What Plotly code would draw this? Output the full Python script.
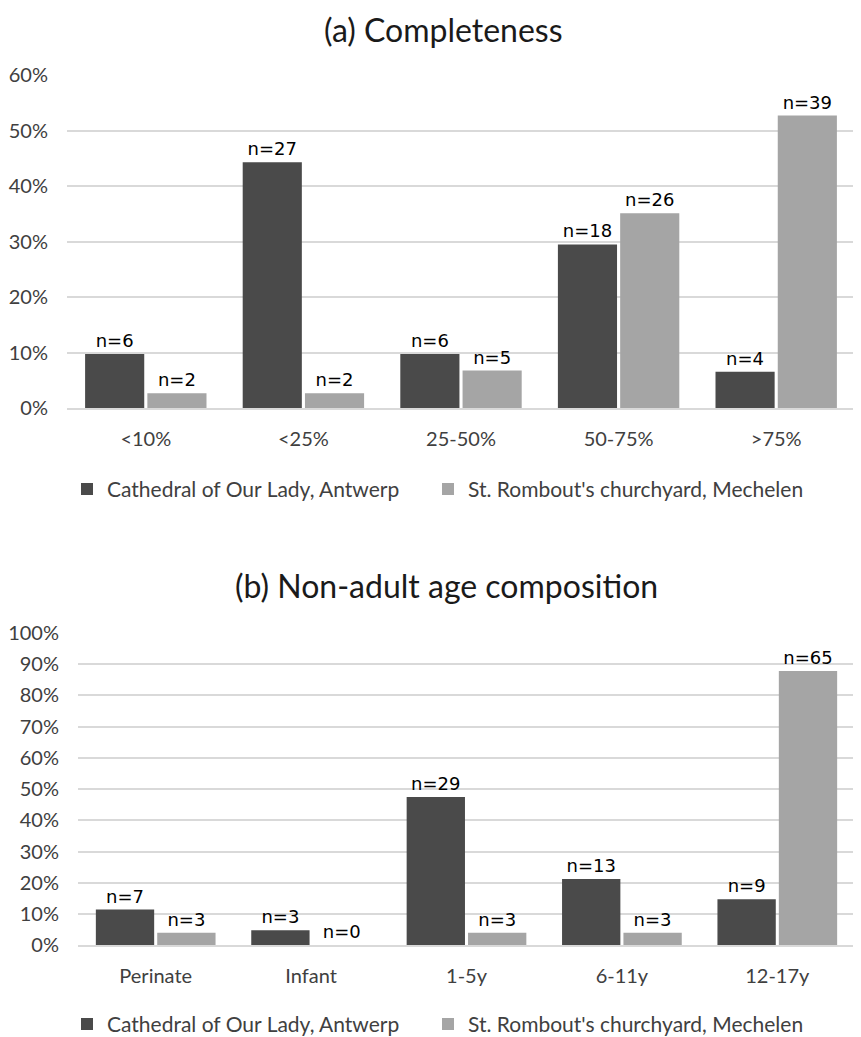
import plotly.graph_objects as go

completeness_cats = ["<10%", "<25%", "25-50%", "50-75%", ">75%"]
comp_antwerp = [0.098, 0.443, 0.098, 0.295, 0.066]
comp_mechelen = [0.027, 0.027, 0.068, 0.351, 0.527]
comp_antwerp_n = [6, 27, 6, 18, 4]
comp_mechelen_n = [2, 2, 5, 26, 39]

age_cats = ["Perinate", "Infant", "1-5y", "6-11y", "12-17y"]
age_antwerp = [0.115, 0.049, 0.475, 0.213, 0.148]
age_mechelen = [0.041, 0.0, 0.041, 0.041, 0.878]
age_antwerp_n = [7, 3, 29, 13, 9]
age_mechelen_n = [3, 0, 3, 3, 65]

series_names = ["Cathedral of Our Lady, Antwerp", "St. Rombout's churchyard, Mechelen"]
DARK = "#4a4a4a"
LIGHT = "#a5a5a5"

# the page has an 8px body margin; map target window pixels to figure paper coords
OFF = 8
VS = 0.993
W, H = 861, 1037
def px_y(p):
    return max(0.0, min(1.0, 1 - (p / VS - OFF) / H))
def px_x(p):
    return max(0.0, min(1.0, (p - OFF) / W))

SANS = "Lato, Open Sans, sans-serif"
TICK_FONT = dict(family=SANS, size=20, color="#404040")
LABEL_FONT = dict(family="DejaVu Sans, sans-serif", size=18, color="#000000")
LEGEND_FONT = dict(family=SANS, size=21, color="#404040")
TITLE_FONT = dict(family=SANS, size=32, color="#1a1a1a")

fig = go.Figure()

def add_pair(cats, a, b, an, bn, xa, ya, legends):
    for vals, ns, name, col, lg in [(a, an, series_names[0], DARK, legends[0]),
                                    (b, bn, series_names[1], LIGHT, legends[1])]:
        fig.add_trace(go.Bar(
            x=cats, y=vals, name=name, marker_color=col, marker_line_width=0,
            text=[f"n={n}" for n in ns], textposition="outside", textfont=LABEL_FONT,
            constraintext="none", cliponaxis=False, xaxis=xa, yaxis=ya,
            legend=lg, showlegend=True, offsetgroup=name,
        ))

add_pair(completeness_cats, comp_antwerp, comp_mechelen, comp_antwerp_n, comp_mechelen_n,
         "x", "y", ("legend", "legend2"))
add_pair(age_cats, age_antwerp, age_mechelen, age_antwerp_n, age_mechelen_n,
         "x2", "y2", ("legend3", "legend4"))

grid = dict(showgrid=True, gridcolor="#d9d9d9", gridwidth=2, zeroline=False, tickformat=".0%",
            tickfont=TICK_FONT, ticks="", showline=False, automargin=False, ticklabelstandoff=18)
xcommon = dict(showgrid=False, zeroline=False, showline=True, linecolor="#d9d9d9", linewidth=2,
               tickfont=TICK_FONT, ticks="", automargin=False, ticklabelstandoff=12)

legend_common = dict(orientation="h", xanchor="left", yanchor="middle", font=LEGEND_FONT,
                     itemwidth=30, bgcolor="rgba(0,0,0,0)")

fig.update_layout(
    width=W, height=H,
    margin=dict(l=0, r=0, t=0, b=0),
    paper_bgcolor="white", plot_bgcolor="white",
    barmode="group", bargap=0.21, bargroupgap=0.05,
    xaxis=dict(domain=[px_x(67), px_x(855)], anchor="y", **xcommon),
    yaxis=dict(domain=[px_y(409), px_y(75)], range=[0, 0.6], dtick=0.1, anchor="x", **grid),
    xaxis2=dict(domain=[px_x(78), px_x(855)], anchor="y2", **xcommon),
    yaxis2=dict(domain=[px_y(947), px_y(634)], range=[0, 1.0], dtick=0.1, anchor="x2", **grid),
    legend=dict(x=px_x(67), y=px_y(490), **legend_common),
    legend2=dict(x=px_x(428), y=px_y(490), **legend_common),
    legend3=dict(x=px_x(67), y=px_y(1026), **legend_common),
    legend4=dict(x=px_x(428), y=px_y(1026), **legend_common),
    annotations=[
        dict(text="(a) Completeness", x=px_x(444), xref="paper", y=px_y(29), yref="paper",
             xanchor="center", yanchor="middle", showarrow=False, font=TITLE_FONT),
        dict(text="(b) Non-adult age composition", x=px_x(446), xref="paper", y=px_y(586), yref="paper",
             xanchor="center", yanchor="middle", showarrow=False, font=TITLE_FONT),
    ],
)

fig.write_html("out.html")
